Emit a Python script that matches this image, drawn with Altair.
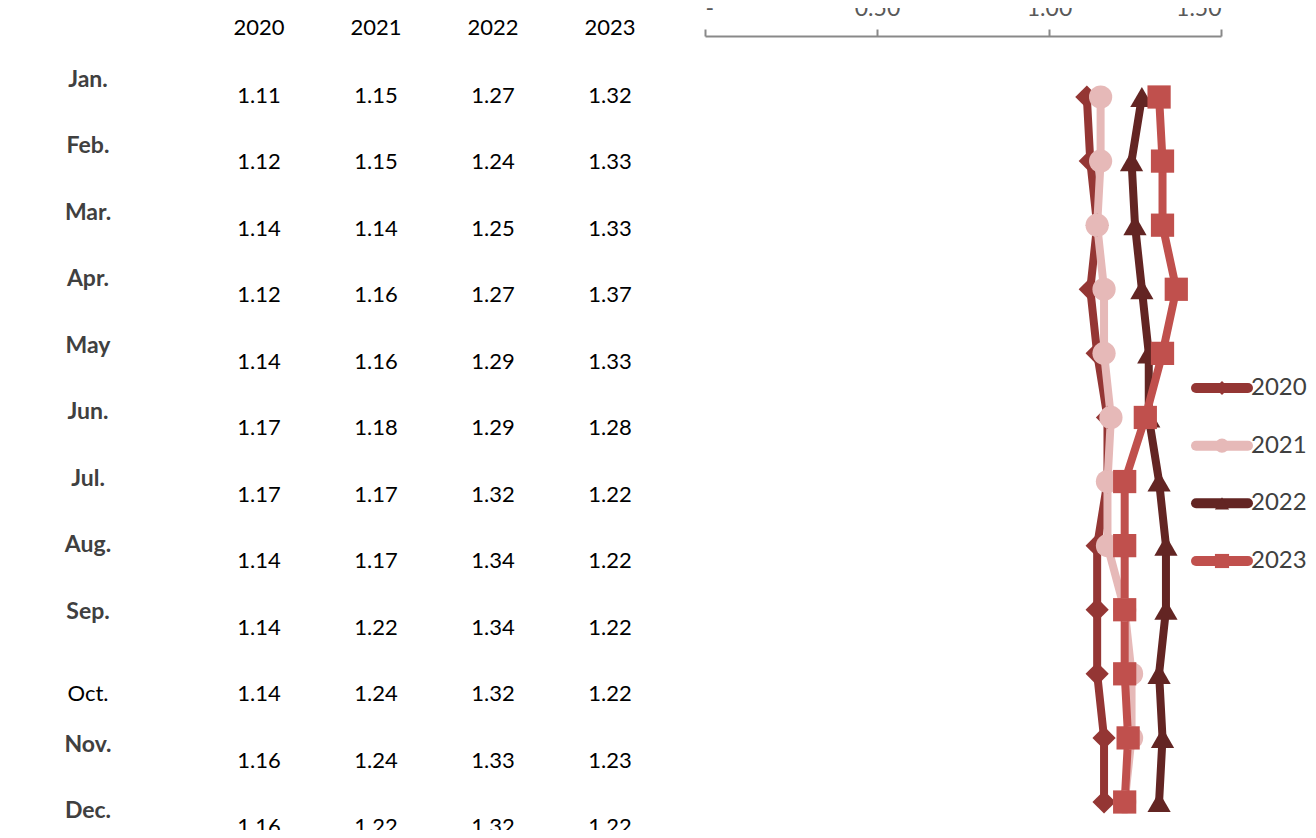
import altair as alt
import pandas as pd

months = ["Jan.", "Feb.", "Mar.", "Apr.", "May", "Jun.", "Jul.", "Aug.", "Sep.", "Oct.", "Nov.", "Dec."]
years = ["2020", "2021", "2022", "2023"]
v2020 = [1.11, 1.12, 1.14, 1.12, 1.14, 1.17, 1.17, 1.14, 1.14, 1.14, 1.16, 1.16]
v2021 = [1.15, 1.15, 1.14, 1.16, 1.16, 1.18, 1.17, 1.17, 1.22, 1.24, 1.24, 1.22]
v2022 = [1.27, 1.24, 1.25, 1.27, 1.29, 1.29, 1.32, 1.34, 1.34, 1.32, 1.33, 1.32]
v2023 = [1.32, 1.33, 1.33, 1.37, 1.33, 1.28, 1.22, 1.22, 1.22, 1.22, 1.23, 1.22]
colors = ["#943634", "#E6B9B8", "#632523", "#C0504D"]
shapes = ["M0,-1L1,0L0,1L-1,0Z", "circle", "triangle-up", "square"]

series = {"2020": v2020, "2021": v2021, "2022": v2022, "2023": v2023}
rows = []
for y in years:
    for i, m in enumerate(months):
        rows.append({"year": y, "month": m, "idx": i, "value": series[y][i]})
df = pd.DataFrame(rows)
mdf = pd.DataFrame({"month": months, "bold": [m != "Oct." for m in months]})
ydf = pd.DataFrame({"year": years, "a": [0] * 4, "b": [1] * 4})

FONT = "Lato"
color_scale = alt.Scale(domain=years, range=colors)
shape_scale = alt.Scale(domain=years, range=shapes)

# table scales
tab_x = alt.Scale(type="point", domain=years, range=[251, 602], padding=0)
tab_y = alt.Scale(type="point", domain=months, range=[60, 791], padding=0)

base_df = alt.Chart(df)

table_vals = base_df.mark_text(font=FONT, fontSize=22, color="#000000", baseline="middle").encode(
    x=alt.X("year:N", scale=tab_x, axis=None),
    y=alt.Y("month:N", scale=tab_y, axis=None, sort=months),
    text=alt.Text("value:Q", format=".2f"),
)

month_bold = alt.Chart(mdf).transform_filter("datum.bold").mark_text(
    font=FONT, fontSize=23, fontWeight="bold", color="#404040", baseline="middle", dy=-16
).encode(
    x=alt.value(80),
    y=alt.Y("month:N", scale=tab_y, axis=None, sort=months),
    text="month:N",
)

month_plain = alt.Chart(mdf).transform_filter("!datum.bold").mark_text(
    font=FONT, fontSize=22, color="#000000", baseline="middle"
).encode(
    x=alt.value(80),
    y=alt.Y("month:N", scale=tab_y, axis=None, sort=months),
    text="month:N",
)

headers = alt.Chart(ydf).mark_text(font=FONT, fontSize=22, color="#000000", baseline="middle").encode(
    x=alt.X("year:N", scale=tab_x, axis=None),
    y=alt.value(-8),
    text="year:N",
)

# line chart
line_x = alt.Scale(domain=[0, 1.5], range=[697, 1213], nice=False, zero=True)
line_y = alt.Scale(type="point", domain=months, range=[61, 766], padding=0)

lines = base_df.mark_line(strokeWidth=8).encode(
    x=alt.X("value:Q", scale=line_x,
            axis=alt.Axis(orient="top", values=[0, 0.5, 1.0, 1.5],
                          labelExpr="datum.value == 0 ? '-' : format(datum.value, '.2f')",
                          grid=False, domainColor="#898989", tickColor="#898989",
                          domainWidth=2, tickWidth=2, tickSize=7, labelPadding=9,
                          labelFont=FONT, labelFontSize=23, labelColor="#595959",
                          title=None)),
    y=alt.Y("month:N", scale=line_y, axis=None, sort=months),
    color=alt.Color("year:N", scale=color_scale, legend=None),
    order=alt.Order("idx:Q"),
    detail="year:N",
)

points = base_df.mark_point(filled=True, size=540, opacity=1).encode(
    x=alt.X("value:Q", scale=line_x, axis=None),
    y=alt.Y("month:N", scale=line_y, axis=None, sort=months),
    color=alt.Color("year:N", scale=color_scale, legend=None),
    shape=alt.Shape("year:N", scale=shape_scale, legend=None),
)

# manual legend
leg_y = alt.Scale(type="point", domain=years, range=[352, 525], padding=0)
leg_x = alt.Scale(domain=[0, 1], range=[1188, 1240], nice=False, zero=False)
leg_base = alt.Chart(ydf)
leg_rule = leg_base.mark_rule(strokeWidth=10, strokeCap="round").encode(
    x=alt.X("a:Q", scale=leg_x, axis=None), x2="b:Q",
    y=alt.Y("year:N", scale=leg_y, axis=None),
    color=alt.Color("year:N", scale=color_scale, legend=None),
)
leg_pt = leg_base.mark_point(filled=True, size=200, opacity=1).encode(
    x=alt.value(1214),
    y=alt.Y("year:N", scale=leg_y, axis=None),
    color=alt.Color("year:N", scale=color_scale, legend=None),
    shape=alt.Shape("year:N", scale=shape_scale, legend=None),
)
leg_txt = leg_base.mark_text(font=FONT, fontSize=24, color="#404040", align="left", baseline="middle").encode(
    x=alt.value(1243),
    y=alt.Y("year:N", scale=leg_y, axis=None),
    text="year:N",
)

chart = alt.layer(
    table_vals, month_bold, month_plain, headers,
    lines, points, leg_rule, leg_pt, leg_txt,
).resolve_scale(x="independent", y="independent").properties(
    width=1300, height=794,
    autosize=alt.AutoSizeParams(type="none"),
    padding={"left": 0, "top": 28, "right": 0, "bottom": 0},
).configure_view(stroke=None)

chart.save("out.html", embed_options={"renderer": "svg", "actions": False})
